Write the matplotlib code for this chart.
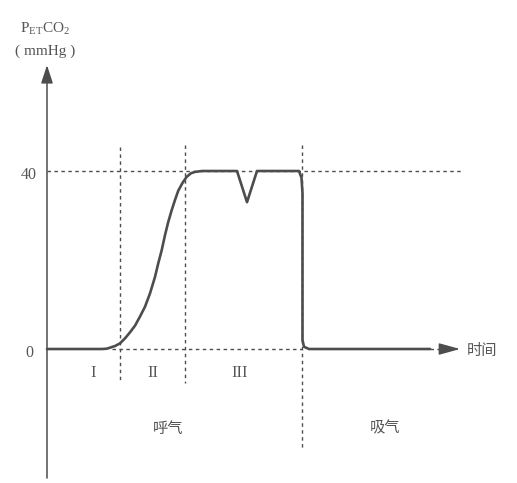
import matplotlib
matplotlib.use("Agg")
import matplotlib.pyplot as plt

# ---- data (time in arbitrary units, PetCO2 in mmHg) ----
curve_t = [0, 5.5, 5.97, 6.3, 6.8, 7.3, 7.8, 8.3, 8.8, 9.3, 9.8, 10.3, 10.8,
           11.13, 11.47, 11.8, 12.13, 12.47, 12.8, 13.13, 13.57, 13.97, 14.4,
           14.8, 15.5,
           19.0, 20.0, 21.0, 25.2, 25.45, 25.55, 25.55, 25.7, 26.2, 38.3]
curve_v = [0, 0, 0.07, 0.3, 0.67, 1.27, 2.4, 3.75, 5.24, 7.3, 9.5, 12.5, 16.2,
           19.3, 22.2, 25.6, 28.6, 31.2, 33.5, 35.6, 37.4, 38.7, 39.5,
           39.8, 40,
           40, 33, 40, 40, 38.5, 35, 2, 0.5, 0, 0]
y_ticks = [0, 40]
y_tick_labels = ["0", "40"]
phase_bounds = [7.3, 13.8, 25.5]          # vertical dotted dividers
phase_labels = ["I", "II", "III"]
phase_label_t = [4.6, 10.6, 19.3]
resp_labels = ["呼气", "吸气"]
resp_label_t = [12.1, 33.8]

LINE = "#4d4d4d"
TXT = "#555555"

fig = plt.figure(figsize=(5.17, 4.83), dpi=100)
ax = fig.add_axes([0, 0, 1, 1])
ax.set_xlim(-4.7, 47.0)
ax.set_ylim(-30.11, 78.43)
ax.axis("off")

dot = dict(color=LINE, lw=1.0, ls=(0, (2.5, 2.5)))

# reference dotted lines
ax.plot([0, 41.6], [40, 40], **dot)
ax.plot([6.5, 25.5], [0, 0], **dot)
ax.plot([38.3, 40.0], [0, 0], **dot)
ax.plot([phase_bounds[0]] * 2, [45.4, -7.6], **dot)
ax.plot([phase_bounds[1]] * 2, [45.8, -7.6], **dot)
ax.plot([phase_bounds[2]] * 2, [45.8, -22.2], **dot)

# capnogram curve
ax.plot(curve_t, curve_v, color=LINE, lw=1.9, solid_joinstyle="round",
        solid_capstyle="round", zorder=3)

# y axis with arrow
ax.annotate("", xy=(0, 63.8), xytext=(0, -29.0),
            arrowprops=dict(arrowstyle="-|>,head_length=1.1,head_width=0.36",
                            color=LINE, lw=1.1, shrinkA=0, shrinkB=0))
# x axis arrow head
ax.annotate("", xy=(41.3, 0), xytext=(39.6, 0),
            arrowprops=dict(arrowstyle="-|>,head_length=1.3,head_width=0.36",
                            color=LINE, lw=1.0, shrinkA=0, shrinkB=0))

serif = ["Liberation Serif", "DejaVu Serif"]
cjk = ["Noto Sans CJK SC", "DejaVu Sans"]

for v, lab in zip(y_ticks, y_tick_labels):
    ax.text(-1.8, v - 1.0, lab, ha="center", va="center", fontsize=11.5,
            family=serif, color=TXT)

for t, lab in zip(phase_label_t, phase_labels):
    ax.text(t, -5.4, lab, ha="center", va="center", fontsize=12,
            family=serif, color=TXT)

for t, lab in zip(resp_label_t, resp_labels):
    ax.text(t, -17.8, lab, ha="center", va="center", fontsize=11,
            family=cjk, color=TXT)

ax.text(42.0, -0.3, "时间", ha="left", va="center", fontsize=11,
        family=cjk, color=TXT)

plt.rcParams["mathtext.fontset"] = "stix"
ax.text(-0.2, 72.0, r"P$_\mathregular{ET}$CO$_\mathregular{2}$", ha="center",
        va="center", fontsize=11, family=serif, color=TXT)
ax.text(-0.2, 66.8, "( mmHg )", ha="center", va="center", fontsize=11,
        family=serif, color=TXT)

fig.savefig("out.png", dpi=100)
